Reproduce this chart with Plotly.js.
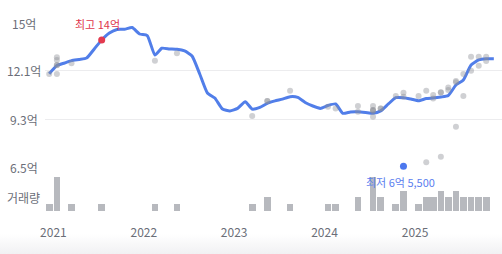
<!DOCTYPE html>
<html>
<head>
<meta charset="utf-8">
<script src="https://cdn.plot.ly/plotly-3.0.1.min.js"></script>
<style>
  html, body { margin: 0; padding: 0; }
  body { width: 502px; height: 254px; overflow: hidden;
         background: linear-gradient(to bottom, #ffffff 0px, #ffffff 234px, #f1f1f3 254px); }
  #chart { width: 502px; height: 254px; }
</style>
</head>
<body>
<div id="chart"></div>
<script>
// ---- data ----
const lineMonths = [
  '2020-12','2021-01','2021-02','2021-03','2021-04','2021-05','2021-06','2021-07','2021-08','2021-09','2021-10','2021-11','2021-12',
  '2022-01','2022-02','2022-03','2022-04','2022-05','2022-06','2022-07','2022-08','2022-09','2022-10','2022-11','2022-12',
  '2023-01','2023-02','2023-03','2023-04','2023-05','2023-06','2023-07','2023-08','2023-09','2023-10','2023-11','2023-12',
  '2024-01','2024-02','2024-03','2024-04','2024-05','2024-06','2024-07','2024-08','2024-09','2024-10','2024-11','2024-12',
  '2025-01','2025-02','2025-03','2025-04','2025-05','2025-06','2025-07','2025-08','2025-09','2025-10','2025-11'
];
const lineValues = [
  12.0,
  12.49, 12.64, 12.78, 12.85, 12.93, 13.47, 14.0, 14.41, 14.62, 14.63, 14.73, 14.35,
  14.26, 13.11, 13.51, 13.47, 13.45, 13.35, 13.05, 11.99, 10.87, 10.57, 9.92, 9.81,
  9.96, 10.35, 9.92, 10.02, 10.26, 10.40, 10.51, 10.65, 10.61, 10.31, 10.10, 9.96,
  10.13, 10.22, 9.67, 9.75, 9.76, 9.72, 9.67, 9.81, 10.22, 10.59, 10.59, 10.51,
  10.41, 10.54, 10.57, 10.63, 10.72, 11.34, 11.64, 12.52, 12.82, 12.89, 12.89
];

const dealMonths = [
  '2020-12',
  '2021-01','2021-01','2021-01','2021-01','2021-01',
  '2021-03','2022-02','2022-05','2023-03','2023-05','2023-05','2023-08',
  '2024-01','2024-02','2024-05','2024-05',
  '2024-07','2024-07','2024-07','2024-07','2024-07',
  '2024-08','2024-08','2024-10','2024-11','2024-11',
  '2025-01','2025-02','2025-02','2025-03','2025-03',
  '2025-04','2025-04','2025-04','2025-05','2025-05',
  '2025-06','2025-06','2025-06','2025-07','2025-07',
  '2025-08','2025-08','2025-09','2025-09','2025-10','2025-10'
];
const dealValues = [
  11.99,
  12.98, 12.82, 12.52, 12.50, 11.99,
  12.62, 12.77, 13.21, 9.51, 10.40, 10.40, 11.00,
  10.06, 9.96, 10.10, 9.76,
  10.10, 9.86, 9.86, 9.47, 9.80,
  9.96, 9.96, 10.69, 10.89, 10.65,
  10.69, 11.00, 6.78, 10.75, 10.55,
  10.91, 10.90, 7.11, 11.20, 11.04,
  11.58, 11.50, 8.88, 11.99, 10.69,
  13.01, 12.18, 13.01, 12.48, 13.01, 12.76
];

const volMonths = [
  '2020-12','2021-01','2021-03','2021-07','2022-02','2022-05','2023-03','2023-05','2023-08',
  '2024-01','2024-02','2024-05','2024-07','2024-08','2024-10','2024-11',
  '2025-01','2025-02','2025-03','2025-04','2025-05','2025-06','2025-07','2025-08','2025-09','2025-10'
];
const volCounts = [1,5,1,1,1,1,1,2,1, 1,1,2,5,2,1,3, 1,2,2,3,2,3,2,2,2,2];

const maxMonth = '2021-07', maxValue = 14.0, maxLabel = '최고 14억';
const minMonth = '2024-11', minValue = 6.55, minLabel = '최저 6억 5,500';

const yTickVals = [15, 12.167, 9.333, 6.5];
const yTickText = ['15억', '12.1억', '9.3억', '6.5억'];
const volLabel = '거래량';
const xTickVals = ['2021-01-01','2022-01-01','2023-01-01','2024-01-01','2025-01-01'];
const xTickText = ['2021','2022','2023','2024','2025'];

// ---- build ----
const mid = m => m + '-15';
const FONT = '"Noto Sans CJK KR", "Noto Sans", sans-serif';
const LABEL = '#6b6e78';

const traces = [
  {
    type: 'bar', x: volMonths.map(mid), y: volCounts, xaxis: 'x', yaxis: 'y2',
    width: 27 * 86400000, marker: { color: '#b7b9be', line: { width: 0 } },
    hoverinfo: 'skip'
  },
  {
    type: 'scatter', mode: 'lines', x: lineMonths.map(mid), y: lineValues,
    line: { color: '#517ee9', width: 3, shape: 'spline', smoothing: 0.5 },
    cliponaxis: false, hoverinfo: 'skip'
  },
  {
    type: 'scatter', mode: 'markers', x: dealMonths.map(mid), y: dealValues,
    marker: { color: 'rgba(140,142,150,0.42)', size: 6 },
    cliponaxis: false, hoverinfo: 'skip'
  },
  {
    type: 'scatter', mode: 'markers', x: [mid(maxMonth)], y: [maxValue],
    marker: { color: '#e33a4f', size: 7 }, cliponaxis: false, hoverinfo: 'skip'
  },
  {
    type: 'scatter', mode: 'markers', x: [mid(minMonth)], y: [minValue],
    marker: { color: '#4c78ee', size: 7 }, cliponaxis: false, hoverinfo: 'skip'
  }
];

const annotations = yTickVals.map((v, i) => ({
  xref: 'paper', yref: 'y', x: -0.046, y: v, text: yTickText[i],
  showarrow: false, xanchor: 'center', yanchor: 'middle',
  font: { family: FONT, size: 12, color: LABEL }
}));
annotations.push({
  xref: 'paper', yref: 'y2', x: -0.046, y: 1.95, text: volLabel,
  showarrow: false, xanchor: 'center', yanchor: 'middle',
  font: { family: FONT, size: 12, color: LABEL }
});
annotations.push({
  xref: 'x', yref: 'y', x: mid(maxMonth), y: maxValue, text: maxLabel,
  showarrow: false, xanchor: 'center', yanchor: 'bottom', xshift: -4, yshift: 6,
  font: { family: FONT, size: 11, color: '#e0364c' }
});
annotations.push({
  xref: 'x', yref: 'y', x: mid(minMonth), y: minValue, text: minLabel,
  showarrow: false, xanchor: 'center', yanchor: 'top', xshift: -3, yshift: -6,
  font: { family: FONT, size: 11, color: '#5b80ef' }
});

const layout = {
  width: 502, height: 254,
  margin: { l: 45, r: 0, t: 20, b: 43 },
  paper_bgcolor: 'rgba(0,0,0,0)', plot_bgcolor: 'rgba(0,0,0,0)',
  showlegend: false, bargap: 0,
  font: { family: FONT, color: LABEL },
  xaxis: {
    type: 'date', range: ['2020-11-28', '2025-12-18'],
    anchor: 'free', position: 0,
    showgrid: false, zeroline: false, showline: false, ticks: '',
    tickmode: 'array', tickvals: xTickVals, ticktext: xTickText,
    tickfont: { family: FONT, size: 12, color: LABEL },
    ticklabelstandoff: 13
  },
  yaxis: {
    domain: [0.23037, 0.98429], range: [6.5, 15],
    tickmode: 'array', tickvals: yTickVals, showticklabels: false,
    showgrid: true, gridcolor: '#ececee', gridwidth: 1,
    zeroline: false, showline: false, ticks: ''
  },
  yaxis2: {
    domain: [0, 0.17801], range: [0, 5],
    showgrid: false, zeroline: false, showline: false, showticklabels: false, ticks: ''
  },
  annotations: annotations
};

Plotly.newPlot('chart', traces, layout, { displayModeBar: false, staticPlot: true });
</script>
</body>
</html>
